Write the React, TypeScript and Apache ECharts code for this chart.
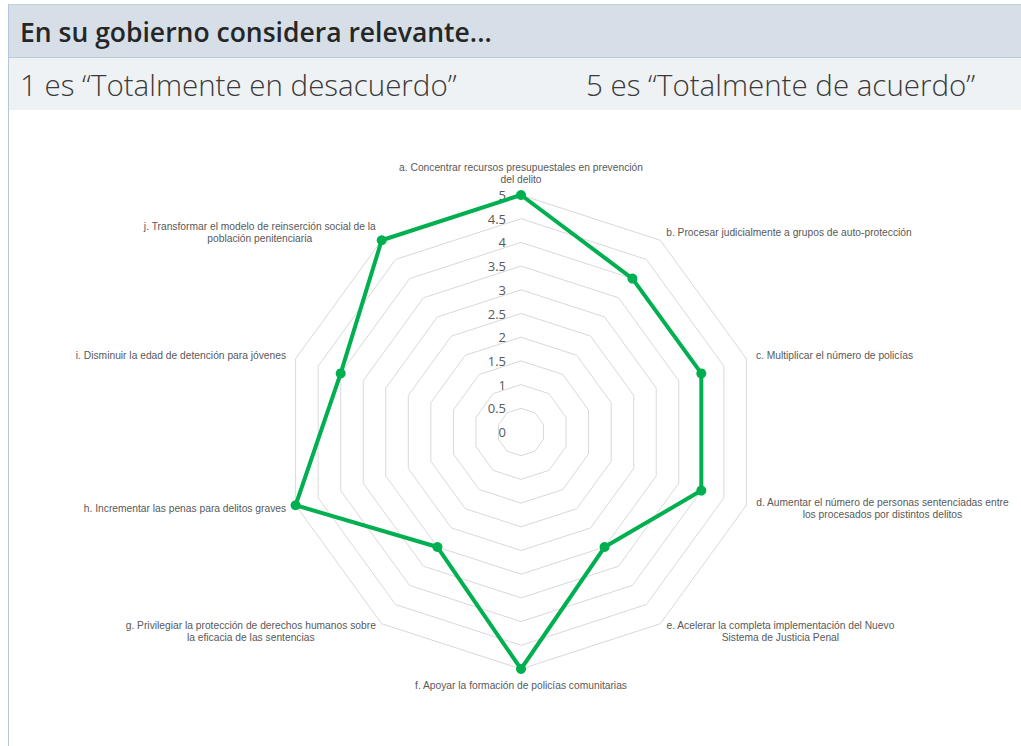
import React, { useEffect, useRef } from "react";
import * as echarts from "echarts";

// ---- data ----
const title = "En su gobierno considera relevante...";
const leftNote = "1 es “Totalmente en desacuerdo”";
const rightNote = "5 es “Totalmente de acuerdo”";

// categories in clockwise order starting at the top
const categories = [
  "a. Concentrar recursos presupuestales en prevención\ndel delito",
  "b. Procesar judicialmente a grupos de auto-protección",
  "c. Multiplicar el número de policías",
  "d. Aumentar el número de personas sentenciadas entre\nlos procesados por distintos delitos",
  "e. Acelerar la completa implementación del Nuevo\nSistema de Justicia Penal",
  "f. Apoyar la formación de policías comunitarias",
  "g. Privilegiar la protección de derechos humanos sobre\nla eficacia de las sentencias",
  "h. Incrementar las penas para delitos graves",
  "i. Disminuir la edad de detención para jóvenes",
  "j. Transformar el modelo de reinserción social de la\npoblación penitenciaria",
];
const values = [5, 4, 4, 4, 3, 5, 3, 5, 4, 5];
const scaleMin = 0;
const scaleMax = 5;
const scaleStep = 0.5;

export default function App() {
  const ref = useRef<HTMLDivElement>(null);

  useEffect(() => {
    if (!ref.current) return;
    const chart = echarts.init(ref.current, null, { renderer: "svg" });

    // ECharts places radar indicators counter-clockwise: keep a at top, then reverse the rest
    const order = [0, ...Array.from({ length: categories.length - 1 }, (_, i) => categories.length - 1 - i)];
    const indicator = order.map((i) => ({ name: categories[i], min: scaleMin, max: scaleMax }));
    const seriesValues = order.map((i) => values[i]);

    const nameColor = "#595959";
    const nameFont = "'Liberation Sans', Arial, sans-serif";
    const tok = { align: "center", fontSize: 10.25, lineHeight: 12, color: nameColor, fontFamily: nameFont };

    chart.setOption({
      animation: false,
      backgroundColor: "#ffffff",
      graphic: [
        { type: "rect", shape: { x: 8, y: 4, width: 1013, height: 53 }, style: { fill: "#d6dfe7" }, silent: true },
        { type: "rect", shape: { x: 8, y: 58, width: 1013, height: 52 }, style: { fill: "#eef2f5" }, silent: true },
        { type: "line", shape: { x1: 8, y1: 57.5, x2: 1021, y2: 57.5 }, style: { stroke: "#b9cad9", lineWidth: 1 }, silent: true },
        { type: "line", shape: { x1: 8, y1: 4.5, x2: 1021, y2: 4.5 }, style: { stroke: "#c4d2de", lineWidth: 1 }, silent: true },
        { type: "line", shape: { x1: 8.5, y1: 4, x2: 8.5, y2: 746 }, style: { stroke: "#b4c8dc", lineWidth: 1 }, silent: true },
        {
          type: "text", x: 20, y: 32,
          style: { text: title, fill: "#262626", font: "600 26.5px 'Open Sans', sans-serif", textVerticalAlign: "middle" },
        },
        {
          type: "text", x: 20, y: 84,
          style: { text: leftNote, fill: "#3a3a3a", font: "300 29.5px 'Open Sans', sans-serif", textVerticalAlign: "middle" },
        },
        {
          type: "text", x: 586, y: 84,
          style: { text: rightNote, fill: "#3a3a3a", font: "300 29.5px 'Open Sans', sans-serif", textVerticalAlign: "middle" },
        },
      ],
      grid: { left: 521, top: 195, width: 1, height: 237 },
      xAxis: { type: "value", show: false },
      yAxis: {
        type: "value",
        min: scaleMin,
        max: scaleMax,
        interval: scaleStep,
        axisLine: { show: false },
        axisTick: { show: false },
        splitLine: { show: false },
        axisLabel: { color: "#595959", fontSize: 13, fontFamily: "'Open Sans', sans-serif", margin: 15 },
      },
      radar: {
        center: [521, 432],
        radius: 237,
        startAngle: 90,
        splitNumber: 10,
        shape: "polygon",
        nameGap: 10,
        indicator,
        axisName: {
          color: nameColor,
          fontSize: 10.25,
          fontFamily: nameFont,
          verticalAlign: "middle",
          formatter: (name: string) => {
            const lines = name.split("\n").map((l) => `{c|${l}}`);
            if (name.startsWith("a.")) return [...lines, "{c| }", "{c| }"].join("\n");
            if (name.startsWith("f.")) return ["{c| }", ...lines].join("\n");
            return lines.join("\n");
          },
          rich: { c: tok },
        },
        splitLine: { lineStyle: { color: "#d9d9d9", width: 1 } },
        splitArea: { show: false },
        axisLine: { show: false },
        axisTick: { show: false },
        axisLabel: { show: false },
      },
      series: [
        {
          type: "radar",
          symbol: "circle",
          symbolSize: 10,
          lineStyle: { color: "#00b050", width: 4 },
          itemStyle: { color: "#00b050" },
          data: [{ value: seriesValues, name: "Promedio" }],
        },
      ],
    });

    return () => chart.dispose();
  }, []);

  return (
    <div
      ref={ref}
      style={{ position: "absolute", left: 0, top: 0, width: 1021, height: 746 }}
    />
  );
}
